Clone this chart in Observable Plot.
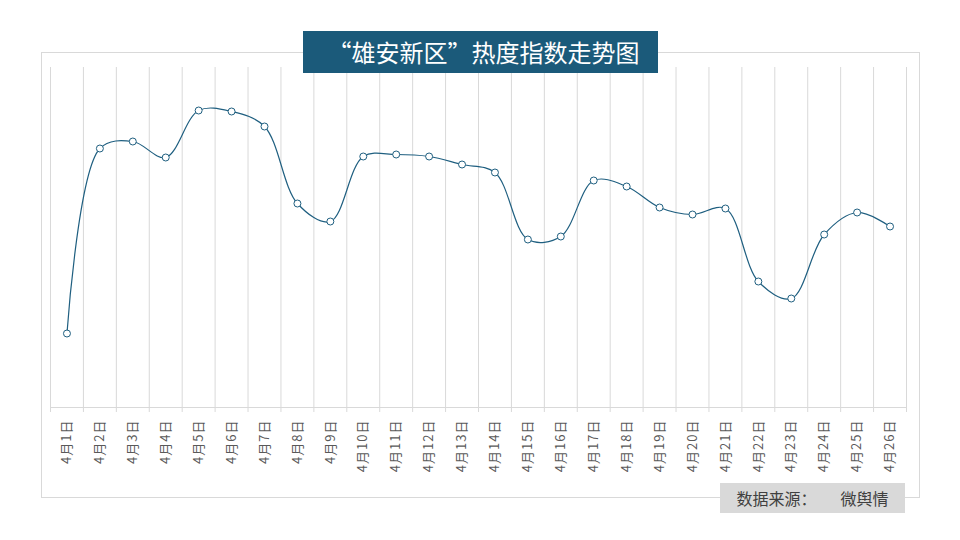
<!DOCTYPE html>
<html><head><meta charset="utf-8">
<script src="https://cdn.jsdelivr.net/npm/d3@7"></script>
<script src="https://cdn.jsdelivr.net/npm/@observablehq/plot@0.6"></script>
<style>
body{margin:0;background:#fff;font-family:"Noto Sans CJK SC","Noto Sans",sans-serif;}
#wrap{position:relative;width:960px;height:540px;overflow:hidden;}
#frame{position:absolute;left:41px;top:52px;width:877px;height:444px;border:1px solid #d9d9d9;}
#title{position:absolute;left:303px;top:31px;width:355px;height:42px;background:#1b5a7a;color:#fff;font-size:24px;line-height:42px;text-align:center;white-space:nowrap;padding-left:6px;box-sizing:border-box;}
#src{position:absolute;left:720px;top:483px;width:185px;height:30px;background:#d9d9d9;color:#404040;font-size:16px;line-height:30px;text-align:center;white-space:pre;}
#chart{position:absolute;left:0;top:0;}
</style></head>
<body><div id="wrap"><div id="frame"></div><div id="chart"></div><div id="title">“雄安新区”热度指数走势图</div><div id="src">数据来源：　　微舆情</div></div>
<script>
const days = ["4月1日","4月2日","4月3日","4月4日","4月5日","4月6日","4月7日","4月8日","4月9日","4月10日","4月11日","4月12日","4月13日","4月14日","4月15日","4月16日","4月17日","4月18日","4月19日","4月20日","4月21日","4月22日","4月23日","4月24日","4月25日","4月26日"];
const heat = [74,259,266,250,297,296,281,204,186,251,253,251,243,235,168,171,227,221,200,193,199,126,109,173,195,181];
const data = days.map((d,i)=>({i:i+1, day:d, v:heat[i]}));
const bounds = d3.range(0.5, days.length + 1, 1);
const color = "#1f5f80";
const chart = Plot.plot({
  width:960, height:540,
  marginLeft:50, marginRight:54, marginTop:67, marginBottom:133,
  x:{domain:[0.5, days.length+0.5], axis:null},
  y:{domain:[0,340], axis:null},
  style:{fontFamily:"'Noto Sans CJK SC','Noto Sans',sans-serif", background:"transparent"},
  marks:[
    Plot.ruleX(bounds, {y1:0, y2:340, stroke:"#d9d9d9", strokeWidth:1}),
    Plot.ruleY([0], {stroke:"#d9d9d9"}),
    Plot.axisX({ticks:bounds, tickFormat:()=>"", tickSize:5, stroke:"#d9d9d9", label:null}),
    Plot.axisX({ticks:data.map(d=>d.i), tickFormat:i=>days[i-1], tickSize:0, tickPadding:12, tickRotate:-90, fontSize:13, fill:"#595959", label:null, letterSpacing:1}),
    Plot.line(data, {x:"i", y:"v", curve:"catmull-rom", stroke:color, strokeWidth:1.2}),
    Plot.dot(data, {x:"i", y:"v", r:3.5, fill:"#fff", stroke:color, strokeWidth:1})
  ]
});
chart.querySelectorAll("text").forEach(t=>t.style.letterSpacing="1px");
document.getElementById("chart").appendChild(chart);
</script></body></html>
